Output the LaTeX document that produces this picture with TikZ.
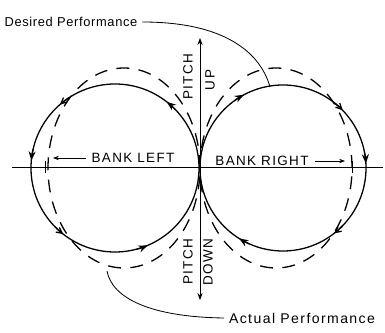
\documentclass[tikz,border=0pt]{standalone}
\usepackage{fontspec}
\setmainfont{Liberation Sans}
\usetikzlibrary{arrows.meta}

\tikzset{
  flight/.style={line width=1.1pt},
  desired/.style={line width=1.1pt, dash pattern=on 11pt off 8pt},
  axis/.style={line width=0.7pt},
  lettering/.style={font=\fontsize{11.5}{13}\selectfont\addfontfeatures{LetterSpace=10}, inner sep=1pt},
  ftip/.style={flight, -{Stealth[length=8pt,width=6pt]}},
  otip/.style={flight, -{Straight Barb[length=5pt,width=5pt]}}
}

\begin{document}
\begin{tikzpicture}[x=0.03cm, y=0.03cm]
\useasboundingbox (0,0) rectangle (385,333);

% axes
\draw[axis] (12,166) -- (383,166);
\draw[axis, {Stealth[length=6pt]}-{Stealth[length=6pt]}] (200,33) -- (200,295);
\draw[axis] (45,160) -- (45,172);
\draw[axis] (352,160) -- (352,172);

% actual performance (solid)
\coordinate (lc) at (115,165);
\coordinate (rc) at (283,165);
\draw[flight] (lc) circle[radius=84];
\draw[flight] (rc) circle[radius=83];
\foreach \a in {52,175,293}
  \draw[ftip] (lc) ++(\a-8:84) arc[start angle=\a-8, end angle=\a, radius=84];
\foreach \a in {131,232}
  \draw[otip] (lc) ++(\a-8:84) arc[start angle=\a-8, end angle=\a, radius=84];
\foreach \a in {118,3,238}
  \draw[ftip] (rc) ++(\a+8:83) arc[start angle=\a+8, end angle=\a, radius=83];
\foreach \a in {44,-52}
  \draw[otip] (rc) ++(\a+8:83) arc[start angle=\a+8, end angle=\a, radius=83];

% desired performance (dashed)
\draw[desired] (124,165) ellipse[x radius=76, y radius=100];
\draw[desired] (276,165) ellipse[x radius=76, y radius=100];

% labels
\node[lettering] (bankl) at (133,175) {BANK LEFT};
\node[lettering] (bankr) at (262,172) {BANK RIGHT};
\coordinate (bl) at (53,175);
\coordinate (br) at (345,172);
\draw[axis, -{Stealth[length=5pt]}] ([xshift=-4pt]bankl.west) -- (bl);
\draw[axis, -{Stealth[length=5pt]}] ([xshift=4pt]bankr.east) -- (br);

\node[lettering, rotate=90] (pu1) at (188,256) {PITCH};
\node[lettering, rotate=90] (pu2) at (210,253) {UP};
\node[lettering, rotate=90] (pd1) at (188,71) {PITCH};
\node[lettering, rotate=90] (pd2) at (208,71) {DOWN};

\node[font=\fontsize{11}{13}\selectfont\addfontfeatures{LetterSpace=5}, inner sep=1pt] (des) at (71,311) {Desired Performance};
\node[font=\fontsize{12}{14}\selectfont\addfontfeatures{LetterSpace=10}, inner sep=1pt] (act) at (302,15) {Actual Performance};
\coordinate (dtip) at (270,246);
\coordinate (atip) at (107,62);
\draw[axis] ([xshift=3pt]des.east) .. controls (232,311) and (262,275) .. (dtip);
\draw[axis] ([xshift=-3pt]act.west) .. controls (150,16) and (112,35) .. (atip);
\end{tikzpicture}
\end{document}
